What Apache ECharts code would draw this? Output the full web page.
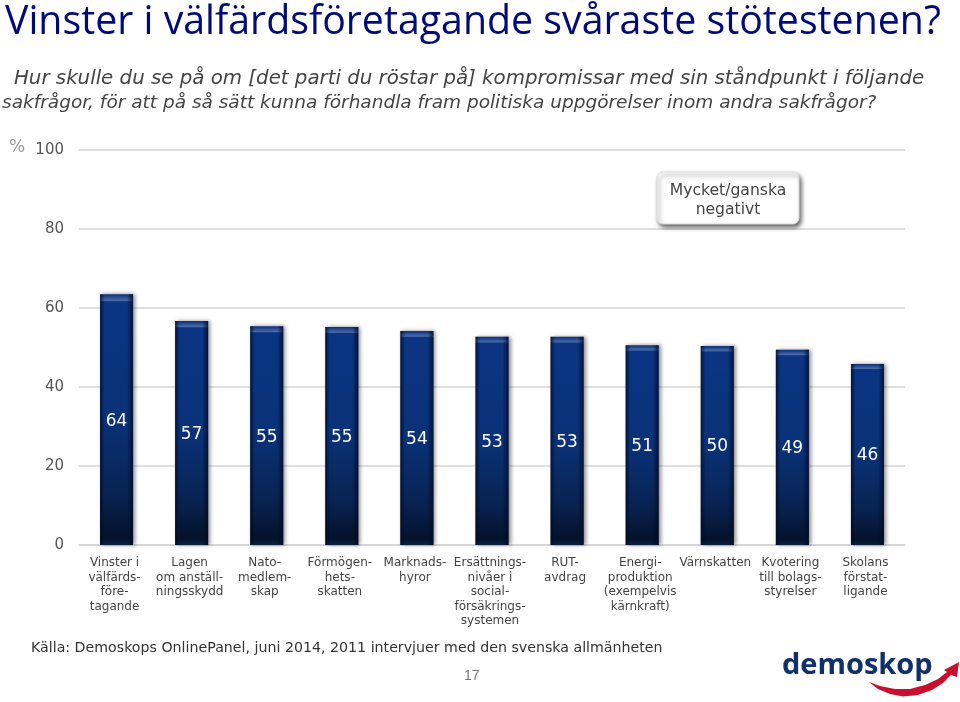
<!DOCTYPE html>
<html>
<head>
<meta charset="utf-8">
<script src="https://cdn.jsdelivr.net/npm/echarts@6/dist/echarts.min.js"></script>
<style>
html, body { margin: 0; padding: 0; background: #fff; }
#main { width: 960px; height: 702px; }
</style>
</head>
<body>
<div id="main"></div>
<script>
var categories = [
	"Vinster i\nvälfärds-\nföre-\ntagande",
	"Lagen\nom anställ-\nningsskydd",
	"Nato-\nmedlem-\nskap",
	"Förmögen-\nhets-\nskatten",
	"Marknads-\nhyror",
	"Ersättnings-\nnivåer i\nsocial-\nförsäkrings-\nsystemen",
	"RUT-\navdrag",
	"Energi-\nproduktion\n(exempelvis\nkärnkraft)",
	"Värnskatten",
	"Kvotering\ntill bolags-\nstyrelser",
	"Skolans\nförstat-\nligande"
];
// bar heights, they round to the printed labels
var negativt = [63.5, 56.7, 55.4, 55.2, 54.2, 52.7, 52.7, 50.6, 50.4, 49.4, 45.8];
var yTicks = [0, 20, 40, 60, 80, 100];

var myChart = echarts.init(document.getElementById('main'));

var barFill = new echarts.graphic.LinearGradient(0, 0, 0, 1, [
	{ offset: 0, color: '#0a2f78' },
	{ offset: 0.025, color: '#4a6aa8' },
	{ offset: 0.03, color: '#0b3583' },
	{ offset: 0.5, color: '#0a3278' },
	{ offset: 0.8, color: '#082352' },
	{ offset: 0.97, color: '#04122c' },
	{ offset: 1, color: '#0b2140' }
]);
var barEdges = new echarts.graphic.LinearGradient(0, 0, 1, 0, [
	{ offset: 0, color: 'rgba(0,10,35,0.75)' },
	{ offset: 0.14, color: 'rgba(0,10,35,0)' },
	{ offset: 0.82, color: 'rgba(0,10,35,0)' },
	{ offset: 1, color: 'rgba(0,10,35,0.8)' }
]);

var option = {
	animation: false,
	backgroundColor: '#fff',
	grid: { left: 79, right: 55, top: 150, bottom: 157 },
	xAxis: {
		type: 'category',
		data: categories,
		axisTick: { show: false },
		axisLine: { lineStyle: { color: '#d4d4d4', width: 1.5 } },
		axisLabel: {
			interval: 0,
			margin: 11,
			padding: [0, 4, 0, 0],
			color: '#444',
			fontFamily: 'DejaVu Sans',
			fontSize: 12,
			lineHeight: 14.5
		}
	},
	yAxis: {
		type: 'value',
		min: yTicks[0],
		max: yTicks[yTicks.length - 1],
		interval: 20,
		axisLine: { show: false },
		axisTick: { show: false },
		axisLabel: { margin: 15, color: '#555', fontFamily: 'DejaVu Sans', fontSize: 15 },
		splitLine: { lineStyle: { color: '#d4d4d4', width: 1.5 } }
	},
	series: [{
		type: 'bar',
		data: negativt,
		barWidth: 33,
		barGap: '-100%',
		z: 2,
		itemStyle: {
			color: barFill,
			shadowColor: 'rgba(0,0,0,0.45)',
			shadowBlur: 4,
			shadowOffsetX: 2,
			shadowOffsetY: 0
		}
	}, {
		type: 'bar',
		data: negativt,
		barWidth: 33,
		barGap: '-100%',
		z: 3,
		itemStyle: { color: barEdges },
		label: {
			show: true,
			position: 'inside',
			offset: [0, 1.5],
			color: '#fff',
			fontFamily: 'DejaVu Sans',
			fontSize: 17,
			formatter: function(p) {
				return Math.round(p.value);
			}
		}
	}],
	graphic: [
		{ type: 'text', x: 5, y: 3, style: { text: 'Vinster i välfärdsföretagande svåraste stötestenen?', fill: '#000a78', font: '39.3px "Open Sans"' } },
		{ type: 'text', x: 14, y: 67, style: { text: 'Hur skulle du se på om [det parti du röstar på] kompromissar med sin ståndpunkt i följande', fill: '#444', lineHeight: 24, font: 'italic 19.8px "DejaVu Sans"' } },
		{ type: 'text', x: 2, y: 91, style: { text: 'sakfrågor, för att på så sätt kunna förhandla fram politiska uppgörelser inom andra sakfrågor?', fill: '#444', lineHeight: 24, font: 'italic 18.5px "DejaVu Sans"' } },
		{ type: 'text', x: 9, y: 139, style: { text: '%', fill: '#999', font: '17px "DejaVu Sans"' } },
		{ type: 'rect', shape: { x: 657, y: 172, width: 142, height: 52, r: 6 }, z: 5, style: { fill: '#fff', stroke: '#ddd', lineWidth: 1, shadowColor: 'rgba(0,0,0,0.6)', shadowBlur: 4, shadowOffsetX: 2, shadowOffsetY: 3 } },
		{ type: 'text', x: 728, y: 181, z: 6, style: { text: 'Mycket/ganska\nnegativt', fill: '#444', align: 'center', lineHeight: 19, font: '15.6px "DejaVu Sans"' } },
		{ type: 'text', x: 31, y: 641, style: { text: 'Källa: Demoskops OnlinePanel, juni 2014, 2011 intervjuer med den svenska allmänheten', fill: '#333', font: '14.2px "DejaVu Sans"' } },
		{ type: 'text', x: 464, y: 669, style: { text: '17', fill: '#777', font: '14px "Liberation Sans"' } },
		{ type: 'text', x: 782, y: 651, style: { text: 'demoskop', fill: '#0f2f6d', font: 'bold 29px "Open Sans"' } },
		{ type: 'polygon', z: 6, shape: { points: [[869, 682], [878, 689], [890, 694], [903, 696.5], [918, 695], [932, 690], [943, 683], [951, 675], [957, 677], [959, 662], [944, 670], [947, 672], [938, 679], [925, 685], [910, 689], [895, 689], [880, 686]] }, style: { fill: '#c8102e' } }
	]
};
myChart.setOption(option);
</script>
</body>
</html>
